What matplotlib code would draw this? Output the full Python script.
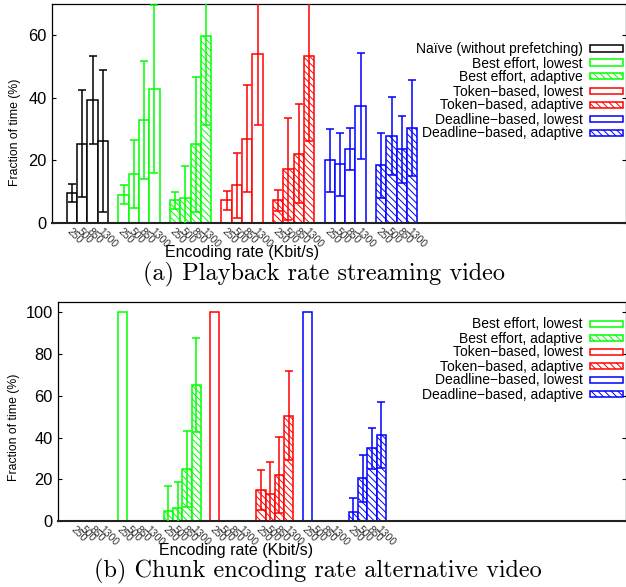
import matplotlib
matplotlib.use("Agg")
import matplotlib.pyplot as plt
from matplotlib.patches import Rectangle

# ---- data ----
rates = ["250", "500", "850", "1300"]
series_names = [
    "Na\u00efve (without prefetching)",
    "Best effort, lowest",
    "Best effort, adaptive",
    "Token\u2212based, lowest",
    "Token\u2212based, adaptive",
    "Deadline\u2212based, lowest",
    "Deadline\u2212based, adaptive",
]
series_colors = ["#000000", "#00ff00", "#00ff00", "#ff0000", "#ff0000", "#0000ff", "#0000ff"]
series_hatched = [False, False, True, False, True, False, True]

# (a) playback rate streaming video: mean and error half-length per rate
a_naive = [9.6, 25.4, 39.2, 26.2]
a_naive_err = [3.0, 17.2, 14.1, 22.6]
a_be_low = [9.1, 15.6, 33.0, 42.9]
a_be_low_err = [2.9, 10.9, 18.8, 26.9]
a_be_adapt = [7.2, 8.1, 25.1, 59.8]
a_be_adapt_err = [2.6, 10.1, 21.5, 28.4]
a_tb_low = [7.2, 12.0, 27.0, 54.1]
a_tb_low_err = [3.1, 10.3, 17.2, 22.7]
a_tb_adapt = [7.2, 17.2, 22.2, 53.3]
a_tb_adapt_err = [3.5, 16.3, 15.9, 27.2]
a_dl_low = [20.0, 18.8, 23.8, 37.4]
a_dl_low_err = [10.0, 10.1, 6.7, 16.9]
a_dl_adapt = [18.4, 27.9, 23.5, 30.3]
a_dl_adapt_err = [10.5, 12.5, 10.7, 15.3]

# (b) chunk encoding rate alternative video (naive group is all zero, not drawn)
b_naive = [0, 0, 0, 0]
b_be_low = [100, 0, 0, 0]
b_be_adapt = [4.6, 6.1, 24.9, 65.0]
b_be_adapt_err = [12.3, 12.4, 18.0, 22.5]
b_tb_low = [100, 0, 0, 0]
b_tb_adapt = [14.9, 12.9, 22.0, 50.5]
b_tb_adapt_err = [9.4, 15.5, 18.3, 21.5]
b_dl_low = [100, 0, 0, 0]
b_dl_adapt = [4.2, 20.4, 34.8, 41.2]
b_dl_adapt_err = [6.7, 11.3, 9.9, 15.6]

W, H = 626, 587
HATCH = "\\" * 5

plt.rcParams["font.family"] = ["Liberation Sans", "DejaVu Sans"]
plt.rcParams["hatch.linewidth"] = 0.7

fig = plt.figure(figsize=(W / 100, H / 100), dpi=100)


def px_axes(left, top, right, bottom):
    return fig.add_axes([left / W, 1 - bottom / H, (right - left) / W, (bottom - top) / H])


def draw_panel(ax, groups, n_groups):
    for g, vals, err, color, hatched in groups:
        xs = [g * 5 + i for i in range(len(vals))]
        ax.bar(xs, vals, width=1.0, facecolor="white", edgecolor=color,
               linewidth=1.1, hatch=HATCH if hatched else None, zorder=2)
        if err is not None:
            ax.errorbar(xs, vals, yerr=err, fmt="none", ecolor=color,
                        elinewidth=1.1, capsize=3.0, capthick=1.1, zorder=3)
    ticks = [g * 5 + i for g in range(n_groups) for i in range(len(rates))]
    ax.set_xticks(ticks, rates * n_groups)
    for lbl in ax.get_xticklabels():
        lbl.set_rotation(-45)
        lbl.set_ha("left")
        lbl.set_va("top")
        lbl.set_rotation_mode("anchor")
        lbl.set_fontsize(7.5)
        lbl.set_color("#333333")
    ax.tick_params(axis="x", length=0, pad=2.5)
    ax.tick_params(axis="y", direction="in", length=3.2, right=True,
                   labelsize=11.8, pad=4, width=0.8)
    for s in ax.spines.values():
        s.set_linewidth(0.9)
    ax.spines["bottom"].set_linewidth(1.5)
    ax.spines["bottom"].set_color("#222222")


def draw_legend(entries, row_y):
    for (name, color, hatched), y in zip(entries, row_y):
        fig.text(583 / W, 1 - (y + 5) / H, name, ha="right", va="baseline", fontsize=10)
        fig.add_artist(Rectangle((590 / W, 1 - (y + 3) / H), 33 / W, 6 / H,
                                 transform=fig.transFigure, facecolor="white",
                                 edgecolor=color, linewidth=1.1,
                                 hatch=HATCH if hatched else None))


# ---- panel (a) ----
ax1 = px_axes(52, 4, 625.5, 223)
groups_a = [
    (0, a_naive, a_naive_err, series_colors[0], series_hatched[0]),
    (1, a_be_low, a_be_low_err, series_colors[1], series_hatched[1]),
    (2, a_be_adapt, a_be_adapt_err, series_colors[2], series_hatched[2]),
    (3, a_tb_low, a_tb_low_err, series_colors[3], series_hatched[3]),
    (4, a_tb_adapt, a_tb_adapt_err, series_colors[4], series_hatched[4]),
    (5, a_dl_low, a_dl_low_err, series_colors[5], series_hatched[5]),
    (6, a_dl_adapt, a_dl_adapt_err, series_colors[6], series_hatched[6]),
]
draw_panel(ax1, groups_a, 7)
ax1.set_xlim(-1.94, 53.7)
ax1.set_ylim(0, 70)
ax1.set_yticks([0, 20, 40, 60])
ax1.set_ylabel("Fraction of time (%)", fontsize=8.8)
ax1.yaxis.set_label_coords(-0.054, 0.416)
draw_legend(list(zip(series_names, series_colors, series_hatched)),
            [48.5, 62.5, 76.5, 90.5, 104.5, 118.5, 132.5])
fig.text(242 / W, 1 - 253 / H, "Encoding rate (Kbit/s)", ha="center", va="center", fontsize=11.5)
fig.text(324 / W, 1 - 280 / H, "(a) Playback rate streaming video",
         ha="center", va="baseline", fontsize=17.5, family="cmr10")

# ---- panel (b) ----
ax2 = px_axes(58.3, 302.3, 625.5, 521)
groups_b = [
    (1, b_be_low, None, series_colors[1], series_hatched[1]),
    (2, b_be_adapt, b_be_adapt_err, series_colors[2], series_hatched[2]),
    (3, b_tb_low, None, series_colors[3], series_hatched[3]),
    (4, b_tb_adapt, b_tb_adapt_err, series_colors[4], series_hatched[4]),
    (5, b_dl_low, None, series_colors[5], series_hatched[5]),
    (6, b_dl_adapt, b_dl_adapt_err, series_colors[6], series_hatched[6]),
]
draw_panel(ax2, groups_b, 7)
ax2.set_xlim(-1.9, 59.4)
ax2.set_ylim(0, 104.8)
ax2.set_yticks([0, 20, 40, 60, 80, 100])
ax2.set_ylabel("Fraction of time (%)", fontsize=8.8)
ax2.yaxis.set_label_coords(-0.067, 0.429)
draw_legend(list(zip(series_names[1:], series_colors[1:], series_hatched[1:])),
            [323.5, 337.5, 351.5, 365.5, 379.5, 393.5])
fig.text(236 / W, 1 - 550 / H, "Encoding rate (Kbit/s)", ha="center", va="center", fontsize=11.5)
fig.text(317.5 / W, 1 - 577 / H, "(b) Chunk encoding rate alternative video",
         ha="center", va="baseline", fontsize=17.5, family="cmr10")

fig.savefig("out.png", dpi=100)
